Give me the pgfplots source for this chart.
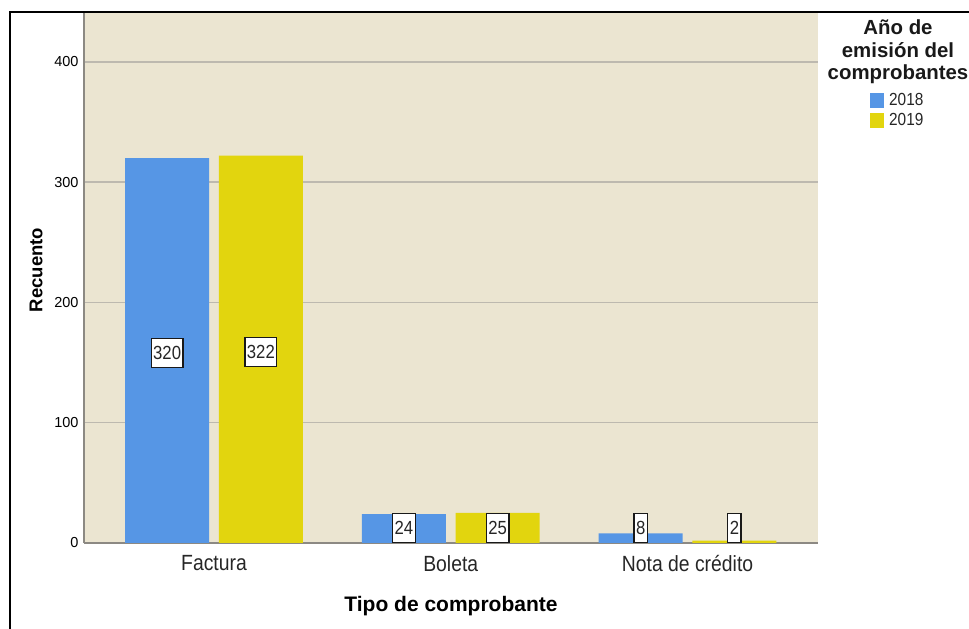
\documentclass[border=0pt]{standalone}
\usepackage{fontspec}
\setmainfont{Liberation Sans}
\newfontfamily\narrowfont[FakeStretch=0.88]{Liberation Sans}
\usepackage{pgfplots}
\pgfplotsset{compat=1.18}
\definecolor{bg}{RGB}{235,229,209}
\definecolor{axisgray}{RGB}{140,137,131}
\definecolor{gridgray}{RGB}{189,185,175}
\definecolor{bblue}{RGB}{86,150,229}
\definecolor{byellow}{RGB}{226,213,14}
\pgfplotstableread{
x y
0 320
1 24
2 8
}\dataA
\pgfplotstableread{
x y
0 322
1 25
2 2
}\dataB
\pgfplotstableread{
x y label
-0.198 158 320
0.198 158.5 322
0.802 12.5 24
1.198 12.5 25
1.802 12.5 8
2.198 12.5 2
}\labels
\begin{document}
\begin{tikzpicture}
\useasboundingbox (0,0) rectangle (969bp,629bp);
\draw[line width=2bp] (10bp,-5bp) -- (10bp,617bp) -- (975bp,617bp);
\begin{axis}[
  at={(84bp,86bp)}, anchor=south west,
  scale only axis, width=734bp, height=530bp,
  xmin=-0.549, xmax=2.551, ymin=0, ymax=440.7,
  axis background/.style={fill=bg},
  axis x line*=bottom, axis y line*=left,
  axis line style={draw=axisgray, line width=2bp, -},
  xtick={0,1,2}, xticklabels={Factura,Boleta,Nota de crédito},
  ytick={0,100,200,300,400},
  major tick length=0pt,
  ymajorgrids, grid style={draw=gridgray, line width=1.5bp},
  /pgf/number format/assume math mode=true,
  yticklabel style={font=\fontsize{14.5bp}{16bp}\selectfont, xshift=-2bp},
  xticklabel style={font=\narrowfont\fontsize{22bp}{25bp}\selectfont, text=black!85, yshift=-9bp},
  xlabel={Tipo de comprobante},
  ylabel={Recuento},
  xlabel style={font=\bfseries\fontsize{21bp}{24bp}\selectfont, at={(axis description cs:0.5,-0.119)}, anchor=center},
  ylabel style={font=\bfseries\fontsize{18.5bp}{22bp}\selectfont, at={(axis description cs:-0.0654,0.515)}, anchor=center},
  legend style={at={(1.0708,0.851)}, anchor=north west, draw=none, fill=none,
    font=\narrowfont\fontsize{17.5bp}{19bp}\selectfont, row sep=3bp, inner sep=0pt,
    nodes={inner xsep=5bp, inner ysep=1.5bp, text=black!85}},
  legend cell align=left,
  sqlegend/.style={legend image code/.code={\fill[##1] (0bp,-7.5bp) rectangle (14bp,7.5bp);}},
]
\addplot[ybar, bar width=0.355, bar shift=-0.198, fill=bblue, draw=none, sqlegend] table[x=x,y=y] {\dataA};
\addlegendentry{2018}
\addplot[ybar, bar width=0.355, bar shift=0.198, fill=byellow, draw=none, sqlegend] table[x=x,y=y] {\dataB};
\addlegendentry{2019}
\addplot[draw=none, mark=none, forget plot, nodes near coords, point meta=explicit symbolic,
  nodes near coords align={anchor=center},
  every node near coord/.style={anchor=center, fill=white, draw=black!90, line width=1.2bp,
    inner xsep=2bp, inner ysep=0pt, minimum height=29bp, text=black!85,
    font=\narrowfont\fontsize{19bp}{22bp}\selectfont}]
  table[x=x, y=y, meta=label] {\labels};
\end{axis}
\node[align=center, font=\bfseries\fontsize{20.4bp}{22.5bp}\selectfont, text=black!90] at (898bp,577bp) {Año de\\emisión del\\comprobantes};
\end{tikzpicture}
\end{document}
